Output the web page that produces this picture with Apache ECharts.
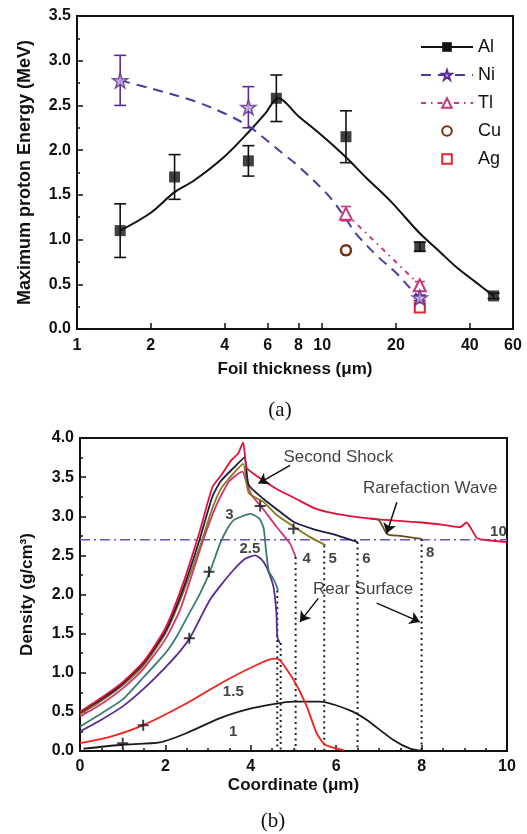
<!DOCTYPE html>
<html><head><meta charset="utf-8">
<script src="https://cdn.jsdelivr.net/npm/echarts@6/dist/echarts.min.js"></script>
<style>html,body{margin:0;padding:0;background:#fff}#c{width:527px;height:834px}</style>
</head><body><div id="c"></div>
<script>
// ================= Panel (a) data =================
const tickLabelsA = [1, 2, 4, 6, 8, 10, 20, 40, 60];
const tickMarksA = [2, 4, 6, 8, 10, 20, 40];
const legendNames = ['Al', 'Ni', 'Tl', 'Cu', 'Ag'];

const alX = [1.5, 2.5, 5, 6.5, 12.5, 25, 50];
const alY = [1.1, 1.7, 1.88, 2.58, 2.15, 0.92, 0.37];
const alErr = [0.3, 0.25, 0.17, 0.26, 0.29, 0.05, 0.03];
const alFitX = [1.5, 2, 2.5, 3, 4, 5, 5.9, 6.6, 8, 10, 12.5, 15, 19, 25, 30, 35, 42, 50];
const alFitY = [1.1, 1.3, 1.53, 1.66, 1.93, 2.2, 2.42, 2.58, 2.38, 2.16, 1.92, 1.7, 1.43, 1.07, 0.87, 0.7, 0.53, 0.37];

const niX = [1.5, 5, 25];
const niY = [2.78, 2.48, 0.35];
const niErr = [0.28, 0.23, 0.03];
const niFitX = [1.5, 2, 3, 4, 5, 5.7, 7, 8, 10.7, 12.5, 13.7, 17, 20, 22.6, 25];
const niFitY = [2.78, 2.69, 2.55, 2.41, 2.27, 2.15, 1.95, 1.82, 1.48, 1.23, 1.07, 0.8, 0.63, 0.47, 0.35];

const tlX = [12.5, 25];
const tlY = [1.29, 0.49];
const tlErr = [0.08, 0.04];

const cuX = [12.5];
const cuY = [0.88];
const cuErr = [0.05];

const agX = [25];
const agY = [0.24];

// ================= Panel (b) data =================
const refDensityX = [0, 10];
const refDensityY = [2.7, 2.7];

const curve1 = [[0.08,0.03],[1.0,0.08],[1.87,0.11],[2.5,0.23],[3.28,0.42],[4.06,0.55],[5.0,0.63],[5.62,0.63],[6.32,0.52],[6.71,0.4],[7.34,0.14],[7.73,0.03],[8.04,0.0]];
const curve15 = [[0,0.1],[0.7,0.18],[1.48,0.33],[2.5,0.61],[3.28,0.86],[4.06,1.08],[4.53,1.18],[4.68,1.16],[5.0,0.91],[5.31,0.57],[5.54,0.23],[5.74,0.08],[6.17,0.01]];
const curve25 = [[0,0.25],[0.5,0.4],[1.0,0.57],[1.5,0.8],[2.0,1.07],[2.35,1.28],[2.58,1.45],[2.8,1.68],[3.04,1.93],[3.3,2.12],[3.59,2.31],[3.85,2.45],[4.1,2.5],[4.25,2.45],[4.37,2.35],[4.53,2.1],[4.6,1.76],[4.62,1.46],[4.68,1.38]];
const curve3 = [[0,0.31],[0.5,0.48],[1.0,0.66],[1.5,0.95],[2.0,1.25],[2.26,1.46],[2.55,1.75],[2.81,2.01],[3.04,2.29],[3.28,2.65],[3.45,2.84],[3.6,2.95],[3.8,3.0],[4.0,3.03],[4.2,2.97],[4.3,2.85],[4.35,2.6],[4.42,2.3],[4.55,2.18],[4.64,2.05]];
const curve4 = [[0,0.44],[0.5,0.6],[1.0,0.8],[1.5,1.06],[2.0,1.43],[2.34,1.8],[2.65,2.3],[2.9,2.72],[3.2,3.15],[3.5,3.45],[3.8,3.57],[3.9,3.43],[4.02,3.27],[4.22,3.14],[4.61,2.86],[4.92,2.65],[5.05,2.48]];
const curve5 = [[0,0.47],[0.5,0.64],[1.0,0.84],[1.5,1.1],[2.0,1.5],[2.4,2.0],[2.8,2.6],[3.1,3.1],[3.3,3.35],[3.6,3.55],[3.82,3.67],[3.95,3.3],[4.3,3.18],[4.6,3.02],[5.0,2.87],[5.4,2.73],[5.75,2.63]];
const curve6 = [[0,0.49],[0.5,0.66],[1.0,0.86],[1.5,1.13],[2.0,1.53],[2.4,2.05],[2.8,2.7],[3.1,3.25],[3.3,3.45],[3.6,3.62],[3.85,3.75],[3.95,3.4],[4.3,3.22],[4.7,3.05],[5.0,2.93],[5.5,2.83],[6.0,2.76],[6.5,2.67]];
const curve8 = [[6.8,2.97],[7.0,2.95],[7.2,2.77],[7.5,2.75],[8.0,2.71]];
const curve10 = [[0,0.5],[0.5,0.68],[1.0,0.88],[1.5,1.15],[2.0,1.57],[2.4,2.12],[2.8,2.8],[3.1,3.37],[3.3,3.52],[3.55,3.72],[3.7,3.8],[3.82,3.94],[3.9,3.62],[4.05,3.55],[4.4,3.42],[4.7,3.32],[5.0,3.24],[5.5,3.1],[6.0,3.03],[6.5,2.99],[7.0,2.96],[7.5,2.94],[8.0,2.92],[8.5,2.89],[8.9,2.86],[9.05,2.92],[9.3,2.72],[9.6,2.69],[10,2.67]];

const rearX = [4.62, 4.7, 5.05, 5.72, 6.5, 8.0];
const rearTop = [2.05, 1.38, 2.48, 2.63, 2.67, 2.71];

const plusX = [1.0, 1.48, 2.56, 3.02, 4.22, 5.0];
const plusY = [0.1, 0.33, 1.44, 2.29, 3.13, 2.84];

const curveLabelText = ['1', '1.5', '2.5', '3', '4', '5', '6', '8', '10'];
const curveLabelX = [3.59, 3.59, 3.98, 3.5, 5.31, 5.92, 6.71, 8.2, 9.8];
const curveLabelY = [0.25, 0.76, 2.58, 3.02, 2.46, 2.46, 2.46, 2.53, 2.8];

const noteText = ['Second Shock', 'Rarefaction Wave', 'Rear Surface'];
const noteX = [6.05, 8.2, 6.63];
const noteY = [3.75, 3.36, 2.06];
const arrowFrom = [[4.92, 3.65], [7.42, 3.18], [5.58, 1.95], [6.95, 1.89]];
const arrowTo = [[4.18, 3.42], [7.18, 2.78], [5.15, 1.65], [7.96, 1.65]];

// ================= styling helpers =================
const FONT = '"Liberation Sans", Arial, sans-serif';
const STAR = 'path://M50,2 L61.8,37.6 L99,37.6 L69,59.6 L80.4,95 L50,73 L19.6,95 L31,59.6 L1,37.6 L38.2,37.6 Z';
const SQUARE = 'path://M0,0H10V10H0Z';
const PLUS = 'path://M4.1,0H5.9V4.1H10V5.9H5.9V10H4.1V5.9H0V4.1H4.1Z';
const zip = (xs, ys) => xs.map((x, i) => [x, ys[i]]);

function errSeries(name, xs, ys, es, color, halfCap) {
  return {
    name: name, type: 'custom', xAxisIndex: 0, yAxisIndex: 0, z: 3, silent: true,
    encode: { x: 0, y: [1, 2] },
    data: xs.map((x, i) => [x, ys[i] - es[i], ys[i] + es[i]]),
    renderItem: function (params, api) {
      const top = api.coord([api.value(0), api.value(2)]);
      const bot = api.coord([api.value(0), api.value(1)]);
      const st = { stroke: color, lineWidth: 1.6 };
      return { type: 'group', children: [
        { type: 'line', shape: { x1: top[0], y1: top[1], x2: bot[0], y2: bot[1] }, style: st },
        { type: 'line', shape: { x1: top[0] - halfCap, y1: top[1], x2: top[0] + halfCap, y2: top[1] }, style: st },
        { type: 'line', shape: { x1: bot[0] - halfCap, y1: bot[1], x2: bot[0] + halfCap, y2: bot[1] }, style: st }
      ]};
    }
  };
}

const axisLineStyle = { color: '#111', width: 2 };
const tickStyle = { color: '#111', width: 1.5 };
const labelStyle = { fontSize: 16, fontWeight: 'bold', color: '#111', fontFamily: FONT };
const nameStyle = { fontSize: 17, fontWeight: 'bold', color: '#111', fontFamily: FONT };

const series = [];

// ---- Panel (a) ----
series.push({
  name: 'Al', type: 'line', xAxisIndex: 0, yAxisIndex: 0, smooth: 0.35, z: 2,
  data: zip(alFitX, alFitY), symbol: SQUARE, symbolSize: 10, showSymbol: false,
  lineStyle: { color: '#111', width: 2 }, itemStyle: { color: '#111' }
});
series.push({
  name: 'Ni', type: 'line', xAxisIndex: 0, yAxisIndex: 0, smooth: 0.35, z: 2,
  data: zip(niFitX, niFitY), symbol: STAR, symbolSize: 12, showSymbol: false,
  lineStyle: { color: '#4b3c9e', width: 2, type: [10, 7] },
  itemStyle: { color: '#c6a9e4', borderColor: '#5b2d91', borderWidth: 1.5 }
});
series.push({
  name: 'Tl', type: 'line', xAxisIndex: 0, yAxisIndex: 0, z: 4,
  data: zip(tlX, tlY), symbol: 'triangle', symbolSize: 12, showSymbol: true,
  lineStyle: { color: '#c9357f', width: 2, type: [5, 5, 1.5, 5] },
  itemStyle: { color: '#fff', borderColor: '#c9357f', borderWidth: 2 }
});
series.push({
  name: 'Cu', type: 'line', xAxisIndex: 0, yAxisIndex: 0, z: 4,
  data: zip(cuX, cuY), symbol: 'circle', symbolSize: 10, showSymbol: true,
  lineStyle: { opacity: 0 },
  itemStyle: { color: '#fff', borderColor: '#7b2f14', borderWidth: 2.5 }
});
series.push({
  name: 'Ag', type: 'line', xAxisIndex: 0, yAxisIndex: 0, z: 4,
  data: zip(agX, agY), symbol: SQUARE, symbolSize: 10, showSymbol: true,
  lineStyle: { opacity: 0 },
  itemStyle: { color: '#fff', borderColor: '#e3262b', borderWidth: 2 }
});
series.push(errSeries('Al err', alX, alY, alErr, '#111', 6));
series.push(errSeries('Ni err', niX, niY, niErr, '#5b2d91', 6));
series.push(errSeries('Tl err', tlX, tlY, tlErr, '#c9357f', 5));
series.push(errSeries('Cu err', cuX, cuY, cuErr, '#7b2f14', 4));
series.push({
  name: 'Al data', type: 'scatter', xAxisIndex: 0, yAxisIndex: 0, z: 5,
  data: zip(alX, alY), symbol: SQUARE, symbolSize: 11, itemStyle: { color: '#111' }
});
series.push({
  name: 'Ni data', type: 'scatter', xAxisIndex: 0, yAxisIndex: 0, z: 5,
  data: zip(niX, niY), symbol: STAR, symbolSize: 15,
  itemStyle: { color: '#c6a9e4', borderColor: '#5b2d91', borderWidth: 1.5 }
});

// ---- Panel (b) ----
series.push({
  name: 'ref', type: 'line', xAxisIndex: 1, yAxisIndex: 1, symbol: 'none', z: 1,
  data: zip(refDensityX, refDensityY),
  lineStyle: { color: '#6a50c0', width: 1.5, type: [10, 4, 2, 4] }
});
rearX.forEach((x, i) => {
  series.push({
    name: 'rear' + i, type: 'line', xAxisIndex: 1, yAxisIndex: 1, symbol: 'none', z: 1,
    data: [[x, rearTop[i]], [x, 0]],
    lineStyle: { color: '#222', width: 2, type: [2, 3.5] }
  });
});
const curveDefs = [
  ['t1', curve1, '#1a1a1a'],
  ['t1.5', curve15, '#f0221c'],
  ['t2.5', curve25, '#5a2a92'],
  ['t3', curve3, '#3c7c72'],
  ['t4', curve4, '#d23478'],
  ['t5', curve5, '#8a7a1a'],
  ['t8', curve8, '#6b4a1c'],
  ['t6', curve6, '#1e1e40'],
  ['t10', curve10, '#e4103c']
];
curveDefs.forEach((d, i) => {
  series.push({
    name: d[0], type: 'line', xAxisIndex: 1, yAxisIndex: 1, symbol: 'none', z: 2 + i * 0.01,
    smooth: 0.2, data: d[1], lineStyle: { color: d[2], width: 1.8 }
  });
});
series.push({
  name: 'plus', type: 'scatter', xAxisIndex: 1, yAxisIndex: 1, z: 6,
  data: zip(plusX, plusY), symbol: PLUS, symbolSize: 11, itemStyle: { color: '#111' }
});
series.push({
  name: 'curveLabels', type: 'scatter', xAxisIndex: 1, yAxisIndex: 1, z: 7,
  symbolSize: 1, itemStyle: { color: 'transparent' },
  data: curveLabelText.map((t, i) => ({ name: t, value: [curveLabelX[i], curveLabelY[i]] })),
  label: { show: true, position: 'inside', formatter: '{b}', fontSize: 15, fontWeight: 'bold', color: '#111', fontFamily: FONT }
});
series.push({
  name: 'notes', type: 'scatter', xAxisIndex: 1, yAxisIndex: 1, z: 7,
  symbolSize: 1, itemStyle: { color: 'transparent' },
  data: noteText.map((t, i) => ({ name: t, value: [noteX[i], noteY[i]] })),
  label: { show: true, position: 'inside', formatter: '{b}', fontSize: 17, color: '#111', fontFamily: FONT },
  markLine: {
    silent: true, symbol: ['none', 'arrow'], symbolSize: 10,
    lineStyle: { color: '#111', width: 1.5, type: 'solid', opacity: 1 },
    itemStyle: { color: '#111' },
    label: { show: false },
    data: arrowFrom.map((f, i) => [{ coord: f }, { coord: arrowTo[i] }])
  }
});

const option = {
  animation: false,
  backgroundColor: '#fff',
  textStyle: { fontFamily: FONT },
  grid: [
    { left: 77, top: 16, width: 436, height: 313, show: true, borderColor: '#111', borderWidth: 2, backgroundColor: 'transparent' },
    { left: 80, top: 438, width: 427, height: 313, show: true, borderColor: '#111', borderWidth: 2, backgroundColor: 'transparent' }
  ],
  legend: {
    data: legendNames, orient: 'vertical', left: 415, top: 33,
    itemWidth: 52, itemHeight: 12, itemGap: 10,
    textStyle: { fontSize: 18, color: '#111', fontFamily: FONT }
  },
  xAxis: [
    {
      type: 'log', logBase: 10, min: 1, max: 60, gridIndex: 0,
      axisLine: { onZero: false, lineStyle: axisLineStyle },
      axisTick: { inside: true, length: 6, lineStyle: tickStyle, customValues: tickMarksA },
      axisLabel: Object.assign({ customValues: tickLabelsA, margin: 9 }, labelStyle),
      splitLine: { show: false }, minorTick: { show: false },
      name: 'Foil thickness (μm)', nameLocation: 'middle', nameGap: 32, nameTextStyle: nameStyle
    },
    {
      type: 'value', min: 0, max: 10, interval: 2, gridIndex: 1,
      axisLine: { onZero: false, lineStyle: axisLineStyle },
      axisTick: { inside: true, length: 6, lineStyle: tickStyle },
      minorTick: { show: true, splitNumber: 4, length: 3, lineStyle: tickStyle },
      axisLabel: Object.assign({ margin: 8 }, labelStyle),
      splitLine: { show: false },
      name: 'Coordinate (μm)', nameLocation: 'middle', nameGap: 26, nameTextStyle: nameStyle
    }
  ],
  yAxis: [
    {
      type: 'value', min: 0, max: 3.5, interval: 0.5, gridIndex: 0,
      axisLine: { onZero: false, lineStyle: axisLineStyle },
      axisTick: { inside: true, length: 6, lineStyle: tickStyle },
      minorTick: { show: true, splitNumber: 2, length: 3, lineStyle: tickStyle },
      axisLabel: Object.assign({ margin: 6, formatter: v => v.toFixed(1) }, labelStyle),
      splitLine: { show: false },
      name: 'Maximum proton Energy (MeV)', nameLocation: 'middle', nameGap: 43,
      nameTextStyle: Object.assign({}, nameStyle, { fontSize: 18 })
    },
    {
      type: 'value', min: 0, max: 4, interval: 0.5, gridIndex: 1,
      axisLine: { onZero: false, lineStyle: axisLineStyle },
      axisTick: { inside: true, length: 6, lineStyle: tickStyle },
      minorTick: { show: true, splitNumber: 2, length: 3, lineStyle: tickStyle },
      axisLabel: Object.assign({ margin: 6, formatter: v => v.toFixed(1) }, labelStyle),
      splitLine: { show: false },
      name: 'Density (g/cm³)', nameLocation: 'middle', nameGap: 44, nameTextStyle: nameStyle
    }
  ],
  graphic: [
    { type: 'text', x: 280, y: 410, style: { text: '(a)', align: 'center', verticalAlign: 'middle', font: '21px "Liberation Serif", "Times New Roman", serif', fill: '#111' } },
    { type: 'text', x: 273, y: 821, style: { text: '(b)', align: 'center', verticalAlign: 'middle', font: '21px "Liberation Serif", "Times New Roman", serif', fill: '#111' } }
  ],
  series: series
};

const chart = echarts.init(document.getElementById('c'), null, { renderer: 'canvas' });
chart.setOption(option);
</script>
</body></html>
